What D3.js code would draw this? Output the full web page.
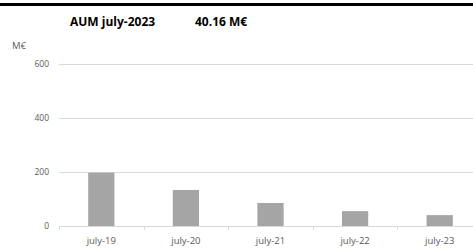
<!DOCTYPE html>
<html>
<head>
<meta charset="utf-8">
<script src="https://cdn.jsdelivr.net/npm/d3@7"></script>
<style>
  body { margin: 0; background: #fff; }
  svg { display: block; font-family: "Open Sans", "Liberation Sans", sans-serif; }
</style>
</head>
<body>
<div class="chart-container"></div>
<script>
// Chart data
const periods = ["july-19", "july-20", "july-21", "july-22", "july-23"];
const aum = [197, 133, 85, 55, 40.16];
const yTicks = [0, 200, 400, 600];
const titleLabel = "AUM july-2023";
const titleValue = "40.16 M€";
const unitLabel = "M€";

function draw() {
    // Declare the chart dimensions and margins.
    const width = 473;
    const height = 248;
    const marginLeft = 59;
    const plotRight = 482;   // plot runs past the visible edge
    const yZero = 226;
    const yTop = 63.5;

    const svg = d3.select('.chart-container').append("svg")
        .attr("width", width)
        .attr("height", height);

    // Top rule
    svg.append("rect")
        .attr("x", 0).attr("y", 3)
        .attr("width", width).attr("height", 3)
        .attr("fill", "#000");

    // Title
    svg.append("text")
        .attr("x", 70).attr("y", 26)
        .style("font-size", "12px").style("font-weight", "bold")
        .attr("fill", "#000")
        .text(titleLabel);
    svg.append("text")
        .attr("x", 195).attr("y", 26)
        .style("font-size", "12px").style("font-weight", "bold")
        .attr("fill", "#000")
        .text(titleValue);

    // Unit label
    svg.append("text")
        .attr("x", 12).attr("y", 48.5)
        .style("font-size", "9.5px")
        .attr("fill", "#595959")
        .text(unitLabel);

    // Scales
    const x = d3.scaleBand()
        .domain(periods)
        .range([marginLeft, plotRight])
        .paddingInner(0.69)
        .paddingOuter(0.345);

    const xTicksScale = d3.scaleBand()
        .domain(periods)
        .range([marginLeft, plotRight]);

    const y = d3.scaleLinear()
        .domain([0, 600])
        .range([yZero, yTop]);

    // Gridlines
    svg.append("g")
        .selectAll("line")
        .data(yTicks.filter(d => d > 0))
        .join("line")
        .attr("x1", marginLeft).attr("x2", plotRight)
        .attr("y1", d => Math.round(y(d)) + 0.5)
        .attr("y2", d => Math.round(y(d)) + 0.5)
        .attr("stroke", "#d9d9d9");

    // Y axis labels
    svg.append("g")
        .selectAll("text")
        .data(yTicks)
        .join("text")
        .attr("x", 49)
        .attr("y", d => y(d) + 3)
        .attr("text-anchor", "end")
        .style("font-size", "8.5px")
        .attr("fill", "#595959")
        .text(d => d);

    // Bars
    svg.append("g")
        .selectAll("rect")
        .data(aum)
        .join("rect")
        .attr("x", (d, i) => x(periods[i]))
        .attr("y", d => y(d))
        .attr("width", x.bandwidth())
        .attr("height", d => yZero - y(d))
        .attr("fill", "#a5a5a5");

    // X axis line and ticks
    const xAxis = svg.append("g");
    xAxis.append("line")
        .attr("x1", marginLeft).attr("x2", plotRight)
        .attr("y1", yZero + 0.5).attr("y2", yZero + 0.5)
        .attr("stroke", "#d9d9d9");
    xAxis.selectAll(".tick")
        .data(periods)
        .join("line")
        .attr("class", "tick")
        .attr("x1", d => Math.round(xTicksScale(d)) + 0.5)
        .attr("x2", d => Math.round(xTicksScale(d)) + 0.5)
        .attr("y1", yZero).attr("y2", yZero + 4)
        .attr("stroke", "#d9d9d9");
    xAxis.selectAll("text")
        .data(periods)
        .join("text")
        .attr("x", d => xTicksScale(d) + xTicksScale.bandwidth() / 2)
        .attr("y", 244)
        .attr("text-anchor", "middle")
        .style("font-size", "9.5px")
        .attr("fill", "#595959")
        .text(d => d);
}

draw();
</script>
</body>
</html>
